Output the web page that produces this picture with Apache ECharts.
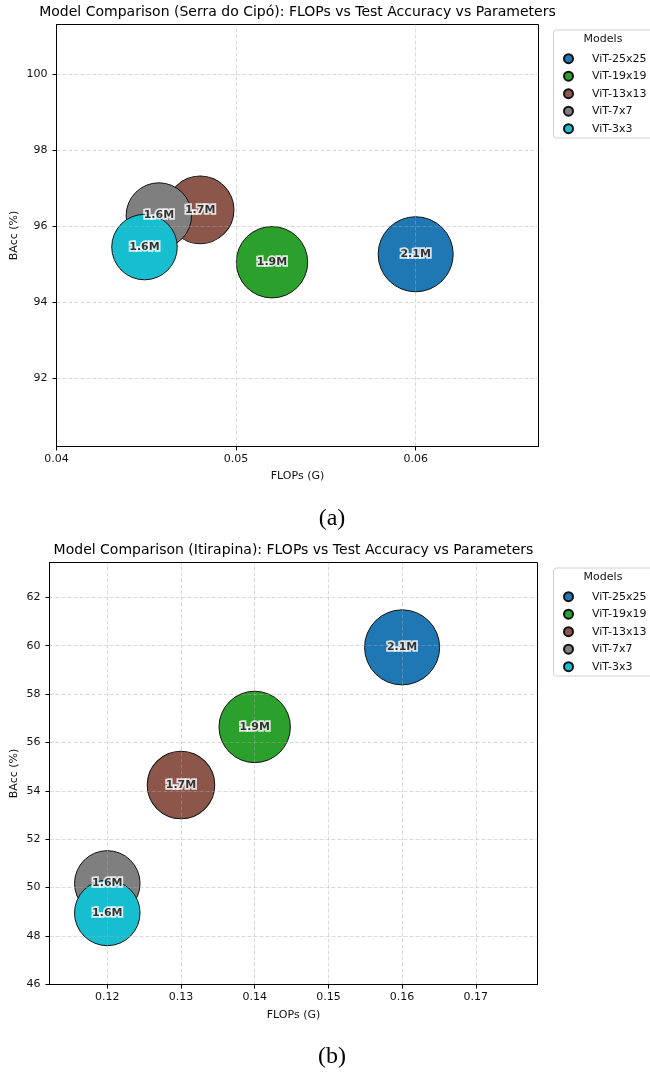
<!DOCTYPE html>
<html><head><meta charset="utf-8">
<script src="https://cdn.jsdelivr.net/npm/echarts@6/dist/echarts.min.js"></script>
<style>html,body{margin:0;padding:0;background:#fff}#c{width:650px;height:1072px}</style>
</head><body><div id="c"></div>
<script>
// ---- data ----
const models = ['ViT-25x25', 'ViT-19x19', 'ViT-13x13', 'ViT-7x7', 'ViT-3x3'];
const paramsM = [2.1, 1.9, 1.7, 1.6, 1.6];
const colors = ['#1f77b4', '#2ca02c', '#8c564b', '#7f7f7f', '#17becf'];
const flopsA = [0.0600, 0.0520, 0.0480, 0.0457, 0.0449];
const baccA = [95.26, 95.05, 96.43, 96.28, 95.45];
const flopsB = [0.16, 0.14, 0.13, 0.12, 0.12];
const baccB = [59.93, 56.64, 54.24, 50.17, 48.95];
const xTicksA = [0.04, 0.05, 0.06];
const yTicksA = [92, 94, 96, 98, 100];
const xTicksB = [0.12, 0.13, 0.14, 0.15, 0.16, 0.17];
const yTicksB = [46, 48, 50, 52, 54, 56, 58, 60, 62];
const xRangeA = [0.04, 0.06684];
const yRangeA = [90.192, 101.317];
const xRangeB = [0.11216, 0.17837];
const yRangeB = [45.99, 63.439];
const titleA = 'Model Comparison (Serra do Cipó): FLOPs vs Test Accuracy vs Parameters';
const titleB = 'Model Comparison (Itirapina): FLOPs vs Test Accuracy vs Parameters';
const xName = 'FLOPs (G)';
const yName = 'BAcc (%)';
const legendTitle = 'Models';
const captions = ['(a)', '(b)'];

// ---- style ----
const FF = 'DejaVu Sans';
const bubbleK = 25.9;
const gridCol = 'rgba(170,170,170,0.55)';

function xAxisOpt(gi, range, ticks, gap) {
  return {
    type: 'value', gridIndex: gi, min: range[0], max: range[1], z: 3,
    name: xName, nameLocation: 'middle', nameGap: gap,
    nameTextStyle: { fontFamily: FF, fontSize: 11, color: '#111' },
    axisLine: { show: true, onZero: false, lineStyle: { color: '#000', width: 1 } },
    axisTick: { show: true, inside: false, length: 4, customValues: ticks, lineStyle: { color: '#000', width: 1 } },
    axisLabel: { show: true, margin: 7.5, customValues: ticks, fontFamily: FF, fontSize: 11, color: '#111' },
    splitLine: { show: false }
  };
}
function yAxisOpt(gi, range, ticks) {
  return {
    type: 'value', gridIndex: gi, min: range[0], max: range[1], z: 3,
    axisLine: { show: true, onZero: false, lineStyle: { color: '#000', width: 1 } },
    axisTick: { show: true, inside: false, length: 4, customValues: ticks, lineStyle: { color: '#000', width: 1 } },
    axisLabel: { show: true, margin: 9, customValues: ticks, fontFamily: FF, fontSize: 11, color: '#111' },
    splitLine: { show: false }
  };
}
function bubbles(gi, xs, ys, xt, yt) {
  return models.map((m, i) => {
    const s = {
      type: 'scatter', name: m, xAxisIndex: gi, yAxisIndex: gi, z: 2,
      data: [[xs[i], ys[i], paramsM[i]]],
      symbol: 'circle',
      symbolSize: v => 2 * bubbleK * Math.sqrt(v[2]),
      itemStyle: { color: colors[i], borderColor: '#111', borderWidth: 1, opacity: 1 },
      emphasis: { disabled: true }, silent: true, animation: false
    };
    if (i === 0) {
      s.markLine = {
        silent: true, z: 3, symbol: ['none', 'none'], animation: false,
        label: { show: false },
        lineStyle: { type: [4, 2], color: gridCol, width: 0.8 },
        emphasis: { disabled: true },
        data: xt.map(v => ({ xAxis: v })).concat(yt.map(v => ({ yAxis: v })))
      };
    }
    return s;
  });
}
function labels(gi, xs, ys, halo) {
  return {
    type: 'scatter', name: (halo ? 'halo' : 'labels') + gi, xAxisIndex: gi, yAxisIndex: gi, z: halo ? 10 : 11,
    silent: true, animation: false,
    data: models.map((m, i) => [xs[i], ys[i], paramsM[i]]),
    symbolSize: 1, itemStyle: { color: 'rgba(0,0,0,0)' },
    label: Object.assign({
      show: true, position: 'inside',
      formatter: p => p.value[2].toFixed(1) + 'M',
      fontFamily: FF, fontWeight: 'bold', fontSize: 11
    }, halo ? { color: '#fff', textBorderColor: '#fff', textBorderWidth: 3.5 } : { color: '#000', textBorderWidth: 0 })
  };
}
function legendOpt(top) {
  return {
    data: models, orient: 'vertical', left: 563, top: top, padding: 0,
    itemWidth: 37, itemHeight: 9, itemGap: 6.5, icon: 'circle',
    textStyle: { fontFamily: FF, fontSize: 11, color: '#111', lineHeight: 9 },
    selectedMode: false
  };
}
function legendBox(top) {
  return [
    { type: 'rect', z: 1, shape: { x: 553.5, y: top, width: 100, height: 108, r: 3 },
      style: { fill: '#fff', stroke: '#d0d0d0', lineWidth: 1 } },
    { type: 'text', z: 2, x: 603, y: top + 9, style: { text: legendTitle, font: '11px "DejaVu Sans"', fill: '#111', align: 'center', verticalAlign: 'middle' } }
  ];
}
function yNameText(cy) {
  return { type: 'text', x: 14, y: cy, rotation: Math.PI / 2,
    style: { text: yName, font: '11px "DejaVu Sans"', fill: '#111', align: 'center', verticalAlign: 'middle' } };
}

const gridBase = { show: true, borderColor: '#000', borderWidth: 1, backgroundColor: 'transparent', containLabel: false, outerBoundsMode: 'none' };
const chart = echarts.init(document.getElementById('c'), null, { renderer: 'canvas' });
chart.setOption({
  backgroundColor: '#fff',
  animation: false,
  grid: [
    Object.assign({ left: 56.5, top: 24.5, width: 482, height: 422 }, gridBase),
    Object.assign({ left: 49.5, top: 562.5, width: 488, height: 422 }, gridBase)
  ],
  xAxis: [xAxisOpt(0, xRangeA, xTicksA, 24), xAxisOpt(1, xRangeB, xTicksB, 25)],
  yAxis: [yAxisOpt(0, yRangeA, yTicksA), yAxisOpt(1, yRangeB, yTicksB)],
  legend: [legendOpt(53.2), legendOpt(591.2)],
  series: [].concat(
    bubbles(0, flopsA, baccA, xTicksA, yTicksA), [labels(0, flopsA, baccA, true), labels(0, flopsA, baccA, false)],
    bubbles(1, flopsB, baccB, xTicksB, yTicksB), [labels(1, flopsB, baccB, true), labels(1, flopsB, baccB, false)]
  ),
  graphic: [
    { type: 'text', x: 297.5, y: 12, style: { text: titleA, font: '14px "DejaVu Sans"', fill: '#000', align: 'center', verticalAlign: 'middle' } },
    { type: 'text', x: 293.5, y: 550, style: { text: titleB, font: '14px "DejaVu Sans"', fill: '#000', align: 'center', verticalAlign: 'middle' } },
    { type: 'text', x: 332, y: 519, style: { text: captions[0], font: '24px "Liberation Serif"', fill: '#000', align: 'center', verticalAlign: 'middle' } },
    { type: 'text', x: 332, y: 1057, style: { text: captions[1], font: '24px "Liberation Serif"', fill: '#000', align: 'center', verticalAlign: 'middle' } },
    yNameText(235.5), yNameText(773.5)
  ].concat(legendBox(30), legendBox(568))
});
</script>
</body></html>
